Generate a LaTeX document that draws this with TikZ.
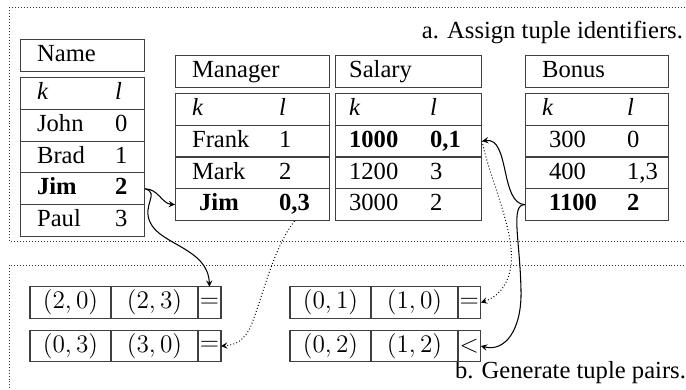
\documentclass[tikz,border=0pt]{standalone}
\usepackage{fontspec}
\setmainfont{Liberation Serif}
\usetikzlibrary{positioning}

\tikzset{
  txt/.style={font=\fontsize{14}{16}\selectfont, inner sep=1pt},
  celltxt/.style={txt, anchor=base west},
  cellbox/.style={draw=black!75, line width=0.6pt, inner sep=0pt, minimum height=0.635cm, anchor=north west},
  pairbox/.style={draw=black!75, line width=0.6pt, inner sep=0pt, outer sep=0pt, minimum height=0.63cm, txt},
  region/.style={draw=black!80, line width=0.5pt, dash pattern=on 0.5pt off 1.2pt},
  link/.style={->, line width=0.6pt},
  dotlink/.style={->, line width=0.6pt, dash pattern=on 0.5pt off 1.3pt},
}

\begin{document}
\begin{tikzpicture}[x=0.02cm, y=-0.02cm, >=stealth]
\useasboundingbox (0,0) rectangle (686,389);
\clip (0,0) rectangle (686,389);
%--- dotted regions ---
\draw[region] (9,7) rectangle (700,241);
\draw[region] (9,265) rectangle (700,400);
\node[txt, anchor=mid east] (titleA) at (685,34) {a. Assign tuple identifiers.};
\node[txt, anchor=mid east] (titleB) at (688,374) {b. Generate tuple pairs.};
%--- Name ---
\node[cellbox, minimum width=2.48cm] (nameH) at (20,39) {};
\node[celltxt] (nameT) at (35,61) {Name};
\foreach \colk/\coll [count=\i from 0] in {\textit{k}/\textit{l}, John/0, Brad/1, \textbf{Jim}/\textbf{2}, Paul/3} {
  \node[cellbox, minimum width=2.48cm] (name\i) at (20,{77+31.8*\i}) {};
  \node[celltxt] (nameK\i) at (35,{99.5+31.8*\i}) {\colk};
  \node[celltxt] (nameL\i) at (113,{99.5+31.8*\i}) {\coll};
}
%--- Manager ---
\node[cellbox, minimum width=3.08cm] (mgrH) at (175,55) {};
\node[celltxt] (mgrT) at (190,77) {Manager};
\foreach \colk/\coll [count=\i from 0] in {\textit{k}/\textit{l}, Frank/1, Mark/2, \hspace{4pt}\textbf{Jim}/\textbf{0,3}} {
  \node[cellbox, minimum width=3.08cm] (mgr\i) at (175,{93+31.75*\i}) {};
  \node[celltxt] (mgrK\i) at (190,{115.5+31.75*\i}) {\colk};
  \node[celltxt] (mgrL\i) at (277,{115.5+31.75*\i}) {\coll};
}
%--- Salary ---
\node[cellbox, minimum width=2.92cm] (salH) at (335,55) {};
\node[celltxt] (salT) at (347,77) {Salary};
\foreach \colk/\coll [count=\i from 0] in {\textit{k}/\textit{l}, \textbf{1000}/\textbf{0,1}, 1200/3, 3000/2} {
  \node[cellbox, minimum width=2.92cm] (sal\i) at (335,{93+31.75*\i}) {};
  \node[celltxt] (salK\i) at (347,{115.5+31.75*\i}) {\colk};
  \node[celltxt] (salL\i) at (428,{115.5+31.75*\i}) {\coll};
}
%--- Bonus ---
\node[cellbox, minimum width=2.86cm] (bonH) at (525,55) {};
\node[celltxt] (bonT) at (540,77) {Bonus};
\foreach \colk/\coll [count=\i from 0] in {\textit{k}/\textit{l}, \hspace{4pt}300/0, \hspace{4pt}400/{1,3}, \hspace{4pt}\textbf{1100}/\textbf{2}} {
  \node[cellbox, minimum width=2.86cm] (bon\i) at (525,{93+31.75*\i}) {};
  \node[celltxt] (bonK\i) at (540,{115.5+31.75*\i}) {\colk};
  \node[celltxt] (bonL\i) at (625,{115.5+31.75*\i}) {\coll};
}
%--- b. tuple pairs ---
\node[pairbox, minimum width=1.62cm] (pL1a) at (70.5,302.5) {$(2,0)$};
\node[pairbox, minimum width=1.74cm, right=0pt of pL1a] (pL1b) {$(2,3)$};
\node[pairbox, minimum width=0.46cm, right=0pt of pL1b] (pL1c) {$=$};
\node[pairbox, minimum width=1.62cm] (pL2a) at (70.5,346) {$(0,3)$};
\node[pairbox, minimum width=1.74cm, right=0pt of pL2a] (pL2b) {$(3,0)$};
\node[pairbox, minimum width=0.46cm, right=0pt of pL2b] (pL2c) {$=$};
\node[pairbox, minimum width=1.62cm] (pR1a) at (330.5,302.5) {$(0,1)$};
\node[pairbox, minimum width=1.74cm, right=0pt of pR1a] (pR1b) {$(1,0)$};
\node[pairbox, minimum width=0.44cm, right=0pt of pR1b] (pR1c) {$=$};
\node[pairbox, minimum width=1.62cm] (pR2a) at (330.5,346) {$(0,2)$};
\node[pairbox, minimum width=1.74cm, right=0pt of pR2a] (pR2b) {$(1,2)$};
\node[pairbox, minimum width=0.44cm, right=0pt of pR2b] (pR2c) {$<$};
% Links
\draw[link] (name3.east) to[out=0, in=175] (mgr3.west);
\draw[link] (name3.east) .. controls (160,193) and (142,205) .. (150,222) .. controls (160,245) and (208,248) .. (pL1c.north);
\draw[dotlink] (mgrL3.south |- mgr3.south) .. controls (272,250) and (262,300) .. (250,328) .. controls (244,340) and (236,345) .. (pL2c.east);
\draw[link] (bon3.west) .. controls (500,204) and (510,137) .. (sal1.east);
\draw[link] (bon3.west) .. controls (510,204) and (520,240) .. (521,290) .. controls (522,330) and (505,352) .. (pR2c.east);
\draw[dotlink] (sal1.east) .. controls (490,180) and (515,230) .. (511,265) .. controls (508,288) and (495,298) .. (pR1c.east);
\end{tikzpicture}
\end{document}
